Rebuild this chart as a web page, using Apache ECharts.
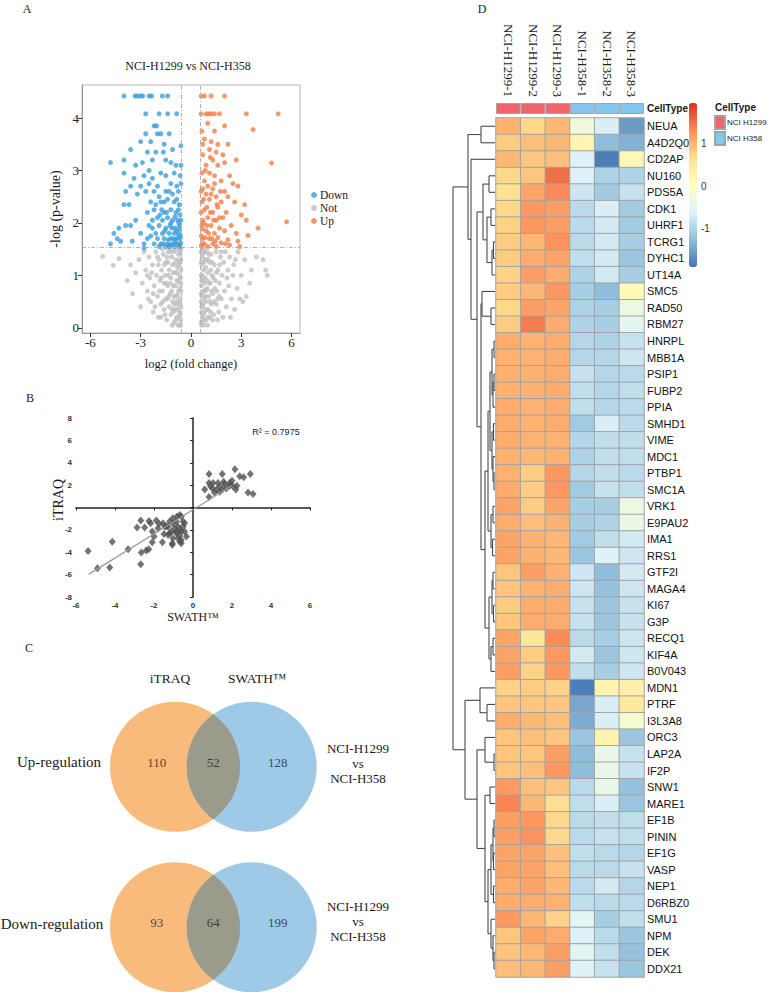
<!DOCTYPE html>
<html><head><meta charset="utf-8">
<script src="https://cdn.jsdelivr.net/npm/echarts@6/dist/echarts.min.js"></script>
<style>html,body{margin:0;padding:0;background:#fff}#c{width:770px;height:992px}</style>
</head><body><div id="c"></div>
<script>
const SERIF = '"Liberation Serif","Times New Roman",Times,serif';
const SANS = '"Liberation Sans",Arial,Helvetica,sans-serif';

// ---------- Panel A: volcano ----------
const volcanoXTicks = [-6, -3, 0, 3, 6];
const volcanoYTicks = [0, 1, 2, 3, 4];
const fcCut = 0.58, pCut = 1.54;
const volcanoDown = [
[-4.0,4.42],[-3.34,4.42],[-3.18,4.42],[-3.0,4.42],[-2.88,4.42],[-2.5,4.42],[-2.35,4.42],[-1.71,4.42],[-1.39,4.42],
[-2.7,4.08],[-1.9,4.08],[-1.39,4.08],[-0.85,4.08],
[-2.2,3.85],[-2.05,3.85],[-2.7,3.7],[-2.0,3.7],[-1.8,3.7],[-1.3,3.7],[-3.0,3.55],[-2.4,3.55],[-1.6,3.5],[-0.6,3.47],
[-3.6,3.4],[-2.1,3.35],[-1.65,3.35],[-4.8,3.15],[-4.0,3.2],[-3.3,3.1],[-2.9,3.15],[-2.3,3.2],[-1.5,3.2],[-1.2,3.15],[-0.9,3.1],[-0.6,3.1],
[-4.0,2.95],[-3.4,2.85],[-2.8,2.9],[-2.3,2.85],[-1.8,2.95],[-1.5,2.9],[-1.0,2.95],[-0.65,2.9],
[-3.6,2.7],[-3.0,2.7],[-2.5,2.75],[-2.0,2.7],[-1.2,2.75],[-0.85,2.7],[-0.6,2.75],
[-3.9,2.6],[-3.2,2.55],[-2.7,2.6],[-1.9,2.5],[-1.5,2.6],[-1.1,2.55],[-0.75,2.6],
[-4.0,2.35],[-3.7,2.35],[-2.4,2.4],[-2.1,2.35],[-1.8,2.4],[-1.4,2.45],[-1.0,2.4],[-0.7,2.35],
[-2.2,2.25],[-1.6,2.2],[-1.2,2.25],[-0.9,2.2],[-0.65,2.15],
[-3.3,2.05],[-2.0,2.1],[-1.7,2.05],[-1.4,2.1],[-1.1,2.05],[-0.8,2.05],
[-4.3,1.9],[-3.9,1.95],[-3.6,1.95],[-2.5,1.95],[-2.3,1.9],[-1.9,1.95],[-1.5,1.9],[-1.25,1.95],[-0.95,1.9],[-0.7,1.95],
[-4.6,1.8],[-3.0,1.8],[-2.1,1.8],[-1.7,1.8],[-1.3,1.8],[-1.0,1.8],[-0.75,1.8],
[-4.4,1.7],[-4.2,1.65],[-3.5,1.65],[-2.6,1.7],[-2.0,1.7],[-1.6,1.7],[-1.2,1.7],[-0.9,1.68],[-0.65,1.7],
[-4.8,1.6],[-2.8,1.6],[-2.2,1.6],[-1.8,1.6],[-1.4,1.6],[-1.1,1.6],[-0.85,1.6],[-0.62,1.62],
[-2.8,1.52],[-1.9,1.55],[-1.5,1.55],[-1.3,1.55],[-1.0,1.55],[-0.7,1.55],
[-0.62,1.75],[-0.68,1.88],[-0.72,2.0],[-0.8,1.72],[-0.88,1.85],[-0.95,2.12],[-1.05,1.7],[-1.15,1.9],[-1.2,2.0],[-1.35,1.68],
[-1.45,2.2],[-1.55,1.85],[-1.65,1.6],[-1.75,2.25],[-1.85,2.15],[-2.3,2.05],[-2.4,1.75],[-2.6,2.2],[-0.75,2.25],[-0.6,2.05],
[-0.65,1.58],[-0.95,1.62],[-1.25,1.58],[-1.6,2.4],[-0.85,2.45],[-1.3,2.6],[-2.2,2.6],[-2.5,3.0],[-1.1,3.4],[-2.6,3.35]
];
const volcanoUp = [
[0.6,4.42],[0.8,4.42],[1.2,4.42],[2.0,4.42],
[0.6,4.08],[0.9,4.08],[1.05,4.08],[1.2,4.08],[1.4,4.08],[1.7,4.08],[3.3,4.08],[5.2,4.08],
[1.0,3.9],[2.0,3.85],[0.65,3.75],[1.4,3.75],[3.7,3.78],[0.8,3.6],[1.2,3.55],[1.6,3.5],[2.2,3.5],
[1.1,3.4],[1.5,3.35],[0.7,3.3],[1.9,3.3],[1.3,3.2],[2.7,3.2],[0.9,3.1],[1.6,3.1],[2.0,3.15],[4.8,3.14],
[0.65,2.95],[1.1,2.95],[1.4,2.9],[2.3,2.9],[0.8,2.8],[1.8,2.8],[2.5,2.75],[0.7,2.65],[1.0,2.7],[1.3,2.65],[2.0,2.6],[2.8,2.7],
[0.9,2.55],[1.5,2.5],[2.2,2.5],[0.65,2.4],[1.1,2.45],[1.8,2.4],[2.6,2.4],[3.2,2.35],
[0.8,2.25],[1.3,2.2],[1.6,2.3],[2.1,2.2],[3.0,2.15],[0.7,2.05],[1.0,2.1],[1.5,2.05],[1.9,2.1],[3.3,2.05],[5.7,2.02],
[0.65,1.95],[1.2,1.95],[1.7,1.9],[2.4,1.95],[4.0,1.9],[0.9,1.85],[1.4,1.8],[2.0,1.85],[2.7,1.8],[3.4,1.76],
[0.7,1.7],[1.1,1.7],[1.6,1.72],[2.2,1.68],[2.8,1.65],[0.8,1.6],[1.3,1.6],[1.8,1.62],[0.62,1.55],[1.0,1.55],[1.5,1.55],[2.3,1.58],[2.9,1.55],
[0.62,1.75],[0.68,1.88],[0.75,2.0],[0.85,1.72],[0.95,1.95],[1.05,1.8],[1.15,2.2],[1.25,1.7],[1.35,2.05],[1.45,1.65],[1.55,2.35],[1.7,2.1],
[0.6,2.2],[0.75,2.45],[0.95,2.3],[1.2,2.55],[0.6,2.6],[0.85,3.0],[1.15,3.25],[0.7,3.5],[1.75,2.6],[2.05,1.6],[0.65,1.6],[1.4,2.75]
];
const volcanoNot = [
[-5.27,1.36],[-4.64,1.19],[-4.3,1.32],[-3.48,0.65],[-3.6,1.2],[-3.3,1.05],[-3.1,1.3],[-2.9,0.85],[-2.8,1.45],[-3.0,0.4],
[-2.7,1.1],[-2.6,0.7],[-2.5,1.35],[-2.45,0.95],[-2.4,0.5],[-2.3,1.2],[-2.25,0.3],[-2.2,0.8],[-2.1,1.45],[-2.05,1.0],[-2.0,0.6],[-1.95,0.2],
[-1.9,1.3],[-1.85,0.9],[-1.8,0.45],[-1.75,1.1],[-1.7,0.7],[-1.65,1.4],[-1.6,0.35],[-1.55,1.0],[-1.5,0.55],[-1.5,1.25],[-1.45,0.15],[-1.4,0.8],
[-1.35,1.45],[-1.3,0.4],[-1.3,1.1],[-1.25,0.65],[-1.2,0.25],[-1.2,0.95],[-1.15,1.35],[-1.1,0.5],[-1.1,1.2],[-1.05,0.8],[-1.0,0.1],[-1.0,1.45],
[-0.95,0.35],[-0.95,1.05],[-0.9,0.6],[-0.9,1.3],[-0.85,0.2],[-0.85,0.9],[-0.8,1.15],[-0.8,0.45],[-0.75,0.7],[-0.75,1.4],[-0.7,0.05],[-0.7,0.3],
[-0.7,1.0],[-0.65,0.55],[-0.65,1.25],[-0.62,0.15],[-0.62,0.85],[-0.6,1.5],[-0.6,0.4],[-0.6,1.1],
[-1.8,0.2],[-1.6,0.85],[-1.4,0.55],[-1.25,1.5],[-1.05,0.3],[-0.9,0.15],[-0.78,0.9],[-0.68,0.75],[-0.66,0.25],[-1.15,0.7],[-1.35,1.0],[-2.15,0.4],[-1.7,1.5],[-0.88,1.5],[-1.02,0.6],
[-2.35,1.05],[-1.95,1.2],[-1.55,0.25],[-1.12,0.05],[-0.82,0.62],[-0.72,1.2],[-0.64,0.95],[-1.42,1.35],[-2.55,0.55],[-1.88,0.7],
[-0.6,0.7],[-0.61,1.3],[-0.63,0.05],[-0.67,1.45],[-0.69,0.5],[-0.71,0.88],[-0.73,0.2],[-0.76,1.28],[-0.79,0.35],[-0.83,1.05],
[-0.86,0.5],[-0.92,0.8],[-0.97,1.22],[-1.0,0.45],[-1.07,1.05],[-1.13,0.35],[-1.18,1.45],[-1.23,0.85],[-1.32,0.6],[-1.38,1.25],
[-1.48,0.85],[-1.58,1.2],[-1.68,0.5],[-1.78,0.95],[-2.25,0.65],[-2.6,1.0],[-3.8,0.9],[-2.0,1.35],[-0.64,1.4],[-0.77,0.05],
[0.6,0.1],[0.6,0.5],[0.6,1.0],[0.6,1.45],[0.62,0.3],[0.62,0.8],[0.65,1.2],[0.65,0.6],[0.68,0.2],[0.7,1.4],[0.7,0.9],[0.72,0.45],[0.75,0.05],[0.75,1.1],
[0.8,0.7],[0.8,0.3],[0.85,1.3],[0.85,0.95],[0.9,0.5],[0.9,0.15],[0.95,1.45],[0.95,0.75],[1.0,1.05],[1.0,0.35],[1.05,0.6],[1.1,1.25],[1.1,0.2],[1.15,0.85],
[1.2,0.45],[1.2,1.4],[1.25,1.0],[1.3,0.65],[1.35,0.25],[1.4,1.2],[1.45,0.9],[1.5,0.45],[1.5,1.45],[1.55,0.7],[1.6,1.1],[1.65,0.3],[1.7,0.85],[1.75,1.35],
[1.8,0.55],[1.85,1.0],[1.9,0.2],[1.95,1.25],[2.0,0.7],[2.05,1.45],[2.1,0.4],[2.2,1.1],[2.25,0.8],[2.3,1.35],[2.4,0.55],[2.5,1.0],[2.6,0.35],[2.65,1.3],[2.75,0.75],
[2.9,0.55],[3.0,1.0],[3.1,0.5],[3.2,1.3],[3.5,0.85],[3.9,1.35],[4.3,1.3],[4.45,1.1],[4.55,1.0],[2.8,1.45],[3.3,0.6],
[0.66,1.35],[0.78,0.55],[0.88,1.15],[1.08,0.85],[1.28,0.15],[1.38,0.5],[0.72,0.7],[0.98,0.05],[1.18,1.1],
[0.64,0.4],[0.7,0.15],[0.83,1.45],[1.02,1.3],[1.22,0.7],[1.6,0.55],[1.72,1.2],[2.15,0.95],[0.92,0.35],[0.68,1.0],
[0.61,0.65],[0.61,1.25],[0.63,0.05],[0.67,1.45],[0.69,0.4],[0.71,0.95],[0.74,0.25],[0.77,1.25],[0.79,0.85],[0.83,0.15],
[0.87,0.6],[0.93,1.3],[0.97,0.9],[1.03,0.2],[1.07,1.4],[1.13,0.5],[1.17,0.3],[1.24,1.25],[1.32,0.95],[1.42,0.75],
[1.52,1.05],[1.58,0.15],[1.68,0.6],[1.8,1.45],[2.35,0.2],[2.55,1.2],[3.6,1.1],[0.64,0.9],[0.76,1.5],[0.9,0.72]
];

// ---------- Panel B: iTRAQ vs SWATH ----------
const swathItraq = [
[0.82,2.99],[1.5,2.99],[2.15,3.43],[2.94,3.0],[2.6,2.7],[2.4,2.8],[0.6,1.6],[0.82,2.2],[1.03,2.2],[1.28,2.2],[1.57,2.3],[1.88,2.2],[2.0,2.4],
[1.0,1.7],[1.2,1.6],[1.37,1.9],[1.5,1.6],[1.7,1.7],[1.88,1.95],[2.2,1.6],[2.25,1.95],[2.82,1.35],[3.08,1.2],[0.82,0.93],[1.1,1.35],[1.37,1.4],
[1.62,2.1],[2.05,1.9],[0.9,1.9],
[-5.38,-3.88],[-4.9,-5.43],[-4.27,-5.37],[-4.14,-3.07],[-3.33,-3.73],[-2.87,-1.79],[-2.68,-1.16],[-2.65,-4.03],[-2.68,-5.07],[-2.4,-3.85],
[-2.27,-3.73],[-2.09,-3.1],[-2.09,-2.15],[-2.17,-1.4],[-2.26,-1.2],[-1.88,-1.16],[-1.74,-1.46],[-1.54,-1.4],[-1.37,-1.7],[-1.49,-2.36],
[-1.57,-3.1],[-1.28,-2.45],[-1.11,-2.15],[-1.03,-1.4],[-0.94,-1.85],[-0.85,-1.25],[-0.77,-1.7],[-0.68,-2.0],[-0.6,-0.8],[-0.51,-1.25],
[-1.06,-3.19],[-1.06,-3.34],[-0.68,-2.5],[-0.6,-2.9],[-0.68,-3.04],[-0.43,-2.15],[-0.34,-2.6],[-0.77,-2.75],[-1.03,-2.75],[-1.28,-1.7],
[-1.2,-1.25],[-1.8,-1.85],[-2.0,-2.6],[-0.51,-1.7],[-0.6,-2.15],[-0.43,-1.4],[-0.68,-0.66],[-0.82,-0.8],[-1.03,-0.95],[-0.85,-2.3],
[-1.2,-2.3],[-0.6,-3.2],[-0.85,-2.15],[-1.45,-1.7],[-2.48,-1.79]
];
const fitSlope = 1.08, fitIntercept = -0.2, fitXRange = [-5.35, 2.0];
const r2Text = 'R² = 0.7975';

// ---------- Panel C: Venn ----------
const vennSets = ['iTRAQ', 'SWATH™'];
const vennRows = ['Up-regulation', 'Down-regulation'];
const vennCounts = [[110, 52, 128], [93, 64, 199]];

// ---------- Panel D: heatmap ----------
const samples = ['NCI-H1299-1','NCI-H1299-2','NCI-H1299-3','NCI-H358-1','NCI-H358-2','NCI-H358-3'];
const cellTypes = ['NCI H1299','NCI H1299','NCI H1299','NCI H358','NCI H358','NCI H358'];
const cellTypeNames = ['NCI H1299','NCI H358'];
const genes = ['NEUA','A4D2Q0','CD2AP','NU160','PDS5A','CDK1','UHRF1','TCRG1','DYHC1','UT14A','SMC5','RAD50','RBM27','HNRPL','MBB1A','PSIP1','FUBP2','PPIA','SMHD1','VIME','MDC1','PTBP1','SMC1A','VRK1','E9PAU2','IMA1','RRS1','GTF2I','MAGA4','KI67','G3P','RECQ1','KIF4A','B0V043','MDN1','PTRF','I3L3A8','ORC3','LAP2A','IF2P','SNW1','MARE1','EF1B','PININ','EF1G','VASP','NEP1','D6RBZ0','SMU1','NPM','DEK','DDX21'];
const expr = [
[1.0,0.7,0.95,-0.3,-0.7,-1.6],
[0.8,0.9,0.95,0.2,-1.3,-1.4],
[0.95,0.85,0.9,-0.65,-1.85,0.15],
[0.7,0.85,1.5,-0.65,-1.05,-1.05],
[0.6,1.1,1.3,-0.8,-1.15,-0.85],
[0.7,1.2,1.15,-0.95,-0.7,-1.15],
[0.75,1.2,1.15,-0.95,-0.75,-1.15],
[0.8,0.95,1.25,-0.95,-0.75,-1.1],
[0.8,1.05,1.1,-0.9,-0.75,-1.2],
[0.75,1.15,1.05,-1.05,-0.75,-1.1],
[0.8,0.95,1.2,-1.1,-1.3,0.1],
[0.7,1.15,1.1,-1.05,-1.1,-0.4],
[0.8,1.4,1.05,-1.05,-1.1,-0.55],
[1.05,1.0,1.05,-1.0,-1.05,-0.85],
[1.0,1.0,1.05,-1.0,-1.0,-0.8],
[1.0,1.0,1.05,-0.85,-1.0,-0.95],
[1.0,1.0,1.05,-0.9,-1.0,-0.9],
[1.05,1.0,1.05,-0.9,-1.0,-0.95],
[1.05,1.0,1.05,-1.15,-0.7,-0.95],
[1.05,1.0,1.0,-1.0,-0.9,-0.9],
[1.0,0.95,1.0,-1.05,-0.9,-0.9],
[1.0,0.8,1.2,-1.0,-0.9,-0.95],
[1.05,0.8,1.2,-1.15,-0.85,-0.9],
[1.1,0.8,1.1,-1.1,-1.1,-0.4],
[1.05,0.9,1.0,-1.1,-1.05,-0.45],
[1.1,1.0,0.95,-1.15,-0.9,-0.75],
[1.1,1.0,0.95,-1.2,-0.65,-0.8],
[0.85,1.15,1.0,-0.8,-1.3,-0.75],
[0.85,1.0,1.05,-0.8,-1.25,-0.8],
[0.8,1.05,1.05,-0.85,-1.2,-0.85],
[0.85,1.05,1.05,-0.85,-1.2,-0.85],
[1.1,0.5,1.3,-0.95,-1.1,-0.8],
[1.1,0.8,1.2,-0.75,-1.2,-0.8],
[1.15,0.75,1.2,-0.9,-1.1,-0.8],
[0.75,0.8,0.75,-1.85,0.25,0.3],
[0.85,0.85,0.85,-1.5,-0.7,0.45],
[1.05,0.95,0.9,-1.45,-0.7,-0.2],
[0.85,0.9,0.85,-1.2,0.25,-1.2],
[0.85,0.85,1.15,-1.3,-0.45,-0.85],
[0.85,0.9,1.2,-1.3,-0.45,-0.85],
[1.2,0.9,0.85,-0.95,-0.45,-1.25],
[1.35,0.95,0.65,-0.9,-0.7,-1.2],
[1.15,1.2,0.7,-0.95,-0.9,-0.9],
[1.15,1.25,0.7,-0.95,-0.85,-0.9],
[1.1,1.1,0.9,-0.9,-0.95,-1.0],
[1.1,1.1,0.9,-0.95,-0.95,-0.85],
[1.05,1.1,0.95,-0.95,-0.75,-1.0],
[1.05,1.05,1.0,-0.9,-0.95,-0.95],
[1.2,0.95,0.75,-0.6,-1.1,-0.9],
[0.85,1.1,1.05,-0.65,-0.95,-1.2],
[0.85,0.95,1.15,-0.6,-0.9,-1.25],
[0.9,0.95,1.15,-0.65,-0.85,-1.2]
];
const colorbarTicks = [-1, 0, 1];
// dendrogram: [mergeHeight, left, right]; leaves are gene names
const dendro =
[42,
  [27,
    [14,'NEUA','A4D2Q0'],
    [24,'CD2AP',
      [18,
        [12,[6,'NU160','PDS5A'],[8,[4,'CDK1','UHRF1'],[3,[1.5,'TCRG1','DYHC1'],'UT14A']]],
        [14,
          [13,'SMC5',[4,'RAD50','RBM27']],
          [10,
            [7,
              [5,[3,[1,'HNRPL','MBB1A'],[2,[1,'PSIP1','FUBP2'],'PPIA']],
                 [3,[1.5,'SMHD1','VIME'],[2,'MDC1',[1,'PTBP1','SMC1A']]]],
              [4,[2,'VRK1','E9PAU2'],[2.5,'IMA1','RRS1']]],
            [6,[3,[2,'GTF2I','MAGA4'],[1.5,'KI67','G3P']],[4,[2,'RECQ1','KIF4A'],'B0V043']]
          ]
        ]
      ]
    ]
  ],
  [30,
    [15,'MDN1',[8,'PTRF','I3L3A8']],
    [18,
      [10,'ORC3',[1,'LAP2A','IF2P']],
      [10,[5,'SNW1','MARE1'],
        [7,[4,[2,[1,'EF1B','PININ'],[1.5,'EF1G','VASP']],[1.5,'NEP1','D6RBZ0']],
           [4,'SMU1',[2,'NPM',[1,'DEK','DDX21']]]]]
    ]
  ]
];
const heatColors = ['#4575B4','#91BFDB','#E0F3F8','#FFFFBF','#FEE090','#FC8D59','#D73027'];
const cellTypeColors = ['#f2646b','#86c7ee'];

// ---------- build ----------
const dendroSegs = [];
function walk(node) {
  if (typeof node === 'string') return { h: 0, y: genes.indexOf(node) };
  const a = walk(node[1]), b = walk(node[2]), h = node[0];
  dendroSegs.push([a.h, a.y, h, a.y]);
  dendroSegs.push([b.h, b.y, h, b.y]);
  dendroSegs.push([h, a.y, h, b.y]);
  return { h: h, y: (a.y + b.y) / 2 };
}
walk(dendro);

const heatData = [];
expr.forEach((row, gi) => row.forEach((v, si) => heatData.push([si, gi, v])));

const vennD = 1.18, vennR = 1, vennRowY = [0, -2.48];
const vennShapes = [], vennLabels = [];
vennRowY.forEach((y, ri) => {
  vennShapes.push([0, y, 0], [vennD, y, 1], [vennD / 2, y, 2]);
  const c = vennCounts[ri];
  vennLabels.push([-0.28, y + 0.07, c[0]], [vennD / 2, y + 0.07, c[1]], [vennD + 0.4, y + 0.07, c[2]]);
});

const txt = (x, y, text, font, extra) => Object.assign({
  type: 'text', x: x, y: y, silent: true,
  style: Object.assign({ text: text, font: font, fill: '#1a1a1a', textAlign: 'center', textVerticalAlign: 'middle', align: 'center', verticalAlign: 'middle' }, (extra && extra.style) || {})
}, extra ? { rotation: extra.rotation || 0 } : {});

const chart = echarts.init(document.getElementById('c'), null, { renderer: 'svg' });
const option = {
  animation: false,
  backgroundColor: '#fff',
  grid: [
    { left: 82, top: 85, width: 218, height: 248, show: true, borderColor: '#b5b5b5', borderWidth: 1 },
    { left: 76, top: 418, width: 234, height: 179 },
    { left: 110, top: 702, width: 206.7, height: 291.2 },
    { left: 453, top: 118, width: 42, height: 859 },
    { left: 496, top: 118, width: 148, height: 859 },
    { left: 496, top: 103, width: 148, height: 11 },
    { left: 689, top: 101, width: 8, height: 170 }
  ],
  xAxis: [
    { gridIndex: 0, type: 'value', min: -6.5, max: 6.5,
      axisLine: { show: true, onZero: false, lineStyle: { color: '#999' } },
      axisTick: { show: true, customValues: volcanoXTicks, length: 4, lineStyle: { color: '#333' } },
      axisLabel: { customValues: volcanoXTicks, fontFamily: SERIF, fontSize: 13, color: '#222', margin: 3 },
      splitLine: { show: false },
      name: 'log2 (fold change)', nameLocation: 'middle', nameGap: 24,
      nameTextStyle: { fontFamily: SERIF, fontSize: 12.5, color: '#1a1a1a' } },
    { gridIndex: 1, type: 'value', min: -6, max: 6, interval: 2,
      axisLine: { onZero: true, lineStyle: { color: '#222', width: 1.5 } },
      axisTick: { length: 3, lineStyle: { color: '#222' } },
      axisLabel: { fontFamily: SANS, fontSize: 8, fontWeight: 'bold', color: '#333', margin: 4 },
      splitLine: { show: false } },
    { gridIndex: 2, type: 'value', min: -1, max: 2.18, show: false },
    { gridIndex: 3, type: 'value', min: 0, max: 42, inverse: true, show: false },
    { gridIndex: 4, type: 'category', data: samples, show: false },
    { gridIndex: 5, type: 'category', data: samples, position: 'top',
      axisLine: { show: false }, axisTick: { show: false },
      axisLabel: { rotate: -90, fontFamily: SERIF, fontSize: 13, color: '#222', margin: 6 } },
    { gridIndex: 6, type: 'value', min: 0, max: 1, show: false }
  ],
  yAxis: [
    { gridIndex: 0, type: 'value', min: -0.1, max: 4.63,
      axisLine: { show: true, onZero: false, lineStyle: { color: '#999' } },
      axisTick: { show: true, customValues: volcanoYTicks, length: 4, lineStyle: { color: '#333' } },
      axisLabel: { customValues: volcanoYTicks, fontFamily: SERIF, fontSize: 13, color: '#222', margin: 3 },
      splitLine: { show: false },
      name: '-log (p-value)', nameLocation: 'middle', nameGap: 20,
      nameTextStyle: { fontFamily: SERIF, fontSize: 14, color: '#1a1a1a' } },
    { gridIndex: 1, type: 'value', min: -8, max: 8, interval: 2,
      axisLine: { onZero: true, lineStyle: { color: '#222', width: 1.5 } },
      axisTick: { length: 3, lineStyle: { color: '#222' } },
      axisLabel: { fontFamily: SANS, fontSize: 8, fontWeight: 'bold', color: '#333', margin: 4,
        formatter: v => (v === 0 ? '' : String(v)) },
      splitLine: { show: false } },
    { gridIndex: 2, type: 'value', min: -3.48, max: 1, show: false },
    { gridIndex: 3, type: 'value', min: -0.5, max: genes.length - 0.5, inverse: true, show: false },
    { gridIndex: 4, type: 'category', data: genes, inverse: true, position: 'right',
      axisLine: { show: false }, axisTick: { show: false },
      axisLabel: { fontFamily: SANS, fontSize: 11, color: '#111', margin: 3 } },
    { gridIndex: 5, type: 'value', min: 0, max: 1, show: false },
    { gridIndex: 6, type: 'value', min: -2, max: 2, interval: 1, position: 'right',
      axisLine: { show: false }, axisTick: { show: false }, splitLine: { show: false },
      axisLabel: { fontFamily: SANS, fontSize: 10, color: '#333', margin: 4,
        formatter: v => (colorbarTicks.indexOf(v) >= 0 ? String(v) : '') } }
  ],
  legend: [
    { data: ['Down', 'Not', 'Up'], orient: 'vertical', left: 311, top: 189, icon: 'circle',
      itemWidth: 6, itemHeight: 6, itemGap: 1, selectedMode: false, padding: 0,
      textStyle: { fontFamily: SERIF, fontSize: 11.5, color: '#1a1a1a', lineHeight: 11.5, padding: [0, 0, 0, -2] } },
    { data: cellTypeNames, orient: 'vertical', left: 714, top: 115, icon: 'rect',
      itemWidth: 10, itemHeight: 13, itemGap: 1, selectedMode: false, padding: 0,
      textStyle: { fontFamily: SANS, fontSize: 8, color: '#222', padding: [0, 0, 0, -3] } }
  ],
  visualMap: [
    { type: 'continuous', seriesIndex: 9, min: -1.93, max: 1.93, calculable: false,
      left: 689, top: 103, itemWidth: 8, itemHeight: 164, padding: 0, text: null, showLabel: false,
      inRange: { color: heatColors } }
  ],
  series: [
    // 0-2 volcano
    { type: 'scatter', name: 'Not', xAxisIndex: 0, yAxisIndex: 0, data: volcanoNot, symbolSize: 5,
      itemStyle: { color: '#c0c0c0' },
      markLine: { silent: true, symbol: 'none', label: { show: false },
        lineStyle: { color: '#b0b0b0', type: [4, 2, 1, 2], width: 1 },
        data: [{ xAxis: -fcCut }, { xAxis: fcCut }, { yAxis: pCut }] } },
    { type: 'scatter', name: 'Down', xAxisIndex: 0, yAxisIndex: 0, data: volcanoDown, symbolSize: 5, itemStyle: { color: '#3a9fd9' } },
    { type: 'scatter', name: 'Up', xAxisIndex: 0, yAxisIndex: 0, data: volcanoUp, symbolSize: 5, itemStyle: { color: '#f0804a' } },
    // 3-4 panel B
    { type: 'line', xAxisIndex: 1, yAxisIndex: 1, symbol: 'none', silent: true,
      data: fitXRange.map(x => [x, fitSlope * x + fitIntercept]), lineStyle: { color: '#9a9a9a', width: 1.2 } },
    { type: 'scatter', xAxisIndex: 1, yAxisIndex: 1, data: swathItraq, symbol: 'diamond', symbolSize: [7, 8],
      itemStyle: { color: '#505050' } },
    // 5-6 venn
    { type: 'custom', xAxisIndex: 2, yAxisIndex: 2, data: vennShapes, silent: true, clip: false,
      renderItem: (params, api) => {
        const kind = api.value(2);
        const c = api.coord([api.value(0), api.value(1)]);
        const r = api.size([vennR, 0])[0];
        if (kind === 0) return { type: 'circle', shape: { cx: c[0], cy: c[1], r: r }, style: { fill: '#f9bb7b' } };
        if (kind === 1) return { type: 'circle', shape: { cx: c[0], cy: c[1], r: r }, style: { fill: '#9ecae7' } };
        const d = api.size([vennD, 0])[0];
        const half = Math.acos((d / 2) / r);
        const pts = [];
        for (let i = 0; i <= 48; i++) { const t = -half + 2 * half * i / 48; pts.push([c[0] - d / 2 + r * Math.cos(t), c[1] + r * Math.sin(t)]); }
        for (let i = 0; i <= 48; i++) { const t = Math.PI - half + 2 * half * i / 48; pts.push([c[0] + d / 2 + r * Math.cos(t), c[1] + r * Math.sin(t)]); }
        return { type: 'polygon', shape: { points: pts }, style: { fill: '#9b9b8c' } };
      } },
    { type: 'scatter', xAxisIndex: 2, yAxisIndex: 2, data: vennLabels, symbolSize: 0, silent: true,
      label: { show: true, position: 'inside', formatter: p => String(p.value[2]), fontFamily: SERIF, fontSize: 13, color: '#222' } },
    // 7 dendrogram
    { type: 'custom', xAxisIndex: 3, yAxisIndex: 3, data: dendroSegs, silent: true, clip: false,
      encode: { x: [0, 2], y: [1, 3] },
      renderItem: (params, api) => {
        const a = api.coord([api.value(0), api.value(1)]);
        const b = api.coord([api.value(2), api.value(3)]);
        return { type: 'line', shape: { x1: a[0], y1: a[1], x2: b[0], y2: b[1] }, style: { stroke: '#4a4a4a', lineWidth: 1.1 } };
      } },
    // 8 placeholder (keeps index order)
    { type: 'scatter', xAxisIndex: 6, yAxisIndex: 6, data: [], silent: true },
    // 9 heatmap
    { type: 'heatmap', xAxisIndex: 4, yAxisIndex: 4, data: heatData, silent: true,
      itemStyle: { borderColor: '#a3a3a3', borderWidth: 1 } },
    // 10-11 annotation bar
    { type: 'bar', name: cellTypeNames[0], xAxisIndex: 5, yAxisIndex: 5, barGap: '-100%', barCategoryGap: 0, silent: true,
      data: cellTypes.map(t => (t === cellTypeNames[0] ? 1 : '-')),
      itemStyle: { color: cellTypeColors[0], borderColor: '#a3a3a3', borderWidth: 1 } },
    { type: 'bar', name: cellTypeNames[1], xAxisIndex: 5, yAxisIndex: 5, barGap: '-100%', barCategoryGap: 0, silent: true,
      data: cellTypes.map(t => (t === cellTypeNames[1] ? 1 : '-')),
      itemStyle: { color: cellTypeColors[1], borderColor: '#a3a3a3', borderWidth: 1 } }
  ],
  graphic: [
    txt(27, 9, 'A', '12px ' + SERIF),
    txt(30, 398, 'B', '12px ' + SERIF),
    txt(29, 648, 'C', '12px ' + SERIF),
    txt(482, 9, 'D', '12px ' + SERIF),
    txt(188, 66, 'NCI-H1299 vs NCI-H358', '12px ' + SERIF),
    txt(58, 500, 'iTRAQ', '14px ' + SERIF, { rotation: Math.PI / 2 }),
    txt(193, 617, 'SWATH™', '12px ' + SERIF),
    txt(276, 432, r2Text, '9px ' + SANS),
    txt(170, 678, vennSets[0], '13.5px ' + SERIF),
    txt(257, 678, vennSets[1], '13.5px ' + SERIF),
    txt(59, 762, vennRows[0], '15px ' + SERIF),
    txt(52, 924, vennRows[1], '15px ' + SERIF),
    txt(358, 763, 'NCI-H1299\nvs\nNCI-H358', '13px ' + SERIF, { style: { lineHeight: 15 } }),
    txt(358, 921, 'NCI-H1299\nvs\nNCI-H358', '13px ' + SERIF, { style: { lineHeight: 15 } }),
    txt(647, 108, 'CellType', 'bold 10px ' + SANS, { style: { textAlign: 'left', align: 'left' } }),
    txt(715, 107, 'CellType', 'bold 10px ' + SANS, { style: { textAlign: 'left', align: 'left' } })
  ]
};
chart.setOption(option);
</script>
</body></html>
